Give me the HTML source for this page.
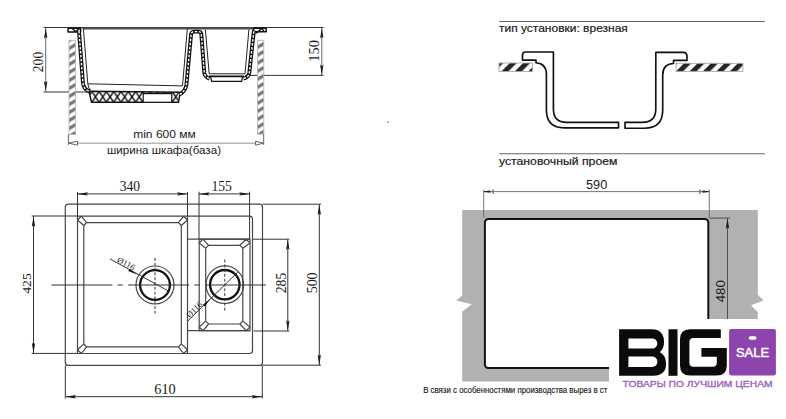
<!DOCTYPE html>
<html><head><meta charset="utf-8">
<style>
html,body{margin:0;padding:0;background:#fff;}
body{width:786px;height:419px;overflow:hidden;position:relative;}
svg{position:absolute;left:0;top:0;}
.sans{font-family:"Liberation Sans",sans-serif;}
.serif{font-family:"Liberation Serif",serif;}
</style></head><body>
<svg width="786" height="419" viewBox="0 0 786 419">
<defs>
  <pattern id="wallH" patternUnits="userSpaceOnUse" width="6.86" height="6.86" patternTransform="rotate(59)">
    <rect width="6.86" height="6.86" fill="#fff"/>
    <rect x="0.1" width="3.2" height="6.86" fill="#747474"/>
  </pattern>
  <pattern id="xH" patternUnits="userSpaceOnUse" x="91.8" y="91.6" width="7.3" height="10.6">
    <rect width="7.3" height="10.6" fill="#fff"/>
    <path d="M0 0 L7.3 10.6 M7.3 0 L0 10.6" stroke="#111" stroke-width="1.5"/>
  </pattern>
  <pattern id="ctH" patternUnits="userSpaceOnUse" width="9.5" height="9.5" patternTransform="translate(8.5,0) rotate(45)">
    <rect width="9.5" height="9.5" fill="#fff"/>
    <rect width="5" height="9.5" fill="#262626"/>
  </pattern>
  <marker id="arF" markerWidth="12" markerHeight="6" refX="11" refY="3" orient="auto-start-reverse" markerUnits="userSpaceOnUse">
    <path d="M0.5 1.3 L11 3 L0.5 4.7 L2.2 3 Z" fill="#1a1a1a"/>
  </marker>
  <marker id="arT" markerWidth="12" markerHeight="6" refX="10" refY="3" orient="auto-start-reverse" markerUnits="userSpaceOnUse">
    <rect x="0" y="0.8" width="1.5" height="4.4" fill="#777"/>
    <path d="M3.5 1.9 L10 2.6 L10 3.4 L3.5 4.1 Z" fill="#222"/>
  </marker>
</defs>

<!-- ============ TOP-LEFT SIDE VIEW ============ -->
<g id="side">
  <!-- top line -->
  <line x1="43.5" y1="27.5" x2="323.5" y2="27.5" stroke="#333" stroke-width="1"/>
  <rect x="82.5" y="27.3" width="170.5" height="2.2" fill="#505050"/>
  <!-- dim 200 -->
  <line x1="45.7" y1="28" x2="45.7" y2="91.5" stroke="#555" stroke-width="0.9" marker-start="url(#arF)" marker-end="url(#arF)"/>
  <line x1="43.5" y1="92" x2="89" y2="92" stroke="#333" stroke-width="1"/>
  <text class="serif" font-size="14.8" fill="#1a1a1a" transform="translate(43.4,62) rotate(-90)" text-anchor="middle" textLength="20.4" lengthAdjust="spacingAndGlyphs">200</text>
  <!-- dim 150 -->
  <line x1="321.8" y1="28" x2="321.8" y2="75" stroke="#555" stroke-width="0.9" marker-start="url(#arF)" marker-end="url(#arF)"/>
  <line x1="245" y1="75.4" x2="323.5" y2="75.4" stroke="#333" stroke-width="1"/>
  <text class="serif" font-size="14.5" fill="#1a1a1a" transform="translate(319.4,50.9) rotate(-90)" text-anchor="middle" textLength="21.6" lengthAdjust="spacingAndGlyphs">150</text>

  <!-- cabinet walls -->
  <rect x="69" y="40.3" width="6.6" height="94.3" fill="url(#wallH)" stroke="#b5b5b5" stroke-width="0.9"/>
  <rect x="257.6" y="40.3" width="6.2" height="93.8" fill="url(#wallH)" stroke="#b5b5b5" stroke-width="0.9"/>
  <!-- 600 dim -->
  <line x1="68.4" y1="134.6" x2="68.4" y2="145" stroke="#555" stroke-width="0.9"/>
  <line x1="263.7" y1="134" x2="263.7" y2="145" stroke="#555" stroke-width="0.9"/>
  <line x1="68.4" y1="143.2" x2="263.7" y2="143.2" stroke="#8a8a8a" stroke-width="0.9"/>
  <path d="M68.8 143.2 L77.5 141.2 L77.5 145.2 Z" fill="#fff" stroke="#555" stroke-width="0.9"/>
  <path d="M263.3 143.2 L255.6 141.2 L255.6 145.2 Z" fill="#fff" stroke="#555" stroke-width="0.9"/>
  <text class="sans" font-size="11.8" fill="#1a1a1a" x="133.2" y="138.4" textLength="62.6" lengthAdjust="spacingAndGlyphs">min 600 мм</text>
  <text class="sans" font-size="11.5" fill="#1a1a1a" x="107" y="153.6" textLength="114" lengthAdjust="spacingAndGlyphs">ширина шкафа(база)</text>

  <!-- inner faces (thin) -->
  <path d="M83.4 28.5 L87.8 83.8 Q88.5 89 91 90.3" fill="none" stroke="#222" stroke-width="1"/>
  <path d="M87.8 83.8 L182.3 85.9" fill="none" stroke="#222" stroke-width="1"/>
  <path d="M187.3 29 L182.5 86" fill="none" stroke="#222" stroke-width="1"/>
  <path d="M205.4 29.5 L209.2 73.8 L245 73.8 L248.9 29.5" fill="none" stroke="#222" stroke-width="1"/>

  <!-- base (cross-hatch) -->
  <path d="M88.9 91.2 L180.2 92.3 L178.5 102.3 L91.5 102.2 Z" fill="url(#xH)" stroke="#111" stroke-width="1.4"/>
  <rect x="143.2" y="93.6" width="28.6" height="8.7" fill="#fff" stroke="#111" stroke-width="1.2"/>
  <!-- small bowl base -->
  <path d="M210.5 76.6 L242.6 76.6 L241.6 81.3 L211.7 81.3 Z" fill="#fff" stroke="#111" stroke-width="1.2"/>
  <line x1="209" y1="76.3" x2="244" y2="76.3" stroke="#111" stroke-width="1.5"/>

  <!-- rims -->
  <g fill="#fff" stroke="#111" stroke-width="1.5" stroke-linejoin="round">
    <path d="M68.1 28.2 L80.6 28.2 L80.6 32 L68.1 32 Z"/>
    <path d="M253.5 28.2 L266.2 28.2 L266.2 31.7 L253.5 31.7 Z"/>
  </g>
  <g fill="none" stroke="#111" stroke-width="1.4">
    <path d="M72.3 28.5 L75.6 31.8 M75.6 31.8 L79.6 28.4 M78 32.2 L80.8 34.5"/>
    <path d="M255.5 33.5 L258.5 31.5 L261.5 28.4 L264 31.5"/>
  </g>

  <!-- thick walls w/ dashes -->
  <g fill="none" stroke-linejoin="round">
    <path d="M79 31 L79.2 34 L83 83.5 Q84 89.5 89.5 91.3" stroke="#111" stroke-width="3.9"/>
    <path d="M79 31 L79.2 34 L83 83.5 Q84 89.5 89.5 91.3" stroke="#fff" stroke-width="1.4" stroke-dasharray="2.5 1.5"/>
    <path d="M179.5 94.5 Q185.2 91.5 186.4 85 L191.1 34 Q191.6 31.6 194.5 31.6 L198.5 31.6 Q201 31.6 201.3 34 L204.3 73 Q205 77 209.5 78.6" stroke="#111" stroke-width="3.9"/>
    <path d="M179.5 94.5 Q185.2 91.5 186.4 85 L191.1 34 Q191.6 31.6 194.5 31.6 L198.5 31.6 Q201 31.6 201.3 34 L204.3 73 Q205 77 209.5 78.6" stroke="#fff" stroke-width="1.4" stroke-dasharray="2.5 1.5"/>
    <path d="M243.5 78.6 Q248.5 77.5 249.3 73 L253.6 33 L254 30.5" stroke="#111" stroke-width="3.9"/>
    <path d="M243.5 78.6 Q248.5 77.5 249.3 73 L253.6 33 L254 30.5" stroke="#fff" stroke-width="1.4" stroke-dasharray="2.5 1.5"/>
  </g>
</g>
<circle cx="387.9" cy="121.9" r="1" fill="#999"/>

<!-- ============ BOTTOM-LEFT TOP VIEW ============ -->
<g id="top" fill="none" stroke="#474747" stroke-width="1.2">
  <!-- outer slab -->
  <rect x="65.3" y="204.2" width="197.2" height="161.2" rx="3"/>
  <!-- bowl block -->
  <path d="M77.5 216.2 L249.5 216.2 Q252.5 216.2 252.5 219.2 L252.5 350.5 Q252.5 353.5 249.5 353.5 L77.5 353.5 Z"/>
  <line x1="187.5" y1="216.2" x2="187.5" y2="353.5"/>
  <!-- big bowl inner w/ chamfers -->
  <path d="M86.6 222.6 L178.4 222.6 L181.3 225.5 L181.3 343.9 L178.4 346.8 L86.6 346.8 L83.8 343.9 L83.8 225.5 Z"/>
  <path d="M77.5 220 L83.8 225.5 M81.4 216.2 L86.6 222.6 M187.5 220 L181.3 225.5 M183.6 216.2 L178.4 222.6 M77.5 349.7 L83.8 343.9 M81.4 353.5 L86.6 346.8 M187.5 349.7 L181.3 343.9 M183.6 353.5 L178.4 346.8 M77.5 220 L81.4 216.2 M187.5 220 L183.6 216.2 M77.5 349.7 L81.4 353.5 M187.5 349.7 L183.6 353.5"/>
  <!-- small bowl -->
  <line x1="187.5" y1="239.2" x2="250" y2="239.2"/>
  <line x1="187.5" y1="330.7" x2="250" y2="330.7"/>
  <rect x="199.2" y="239.2" width="50.8" height="91.5"/>
  <path d="M208.6 245.3 L239.9 245.3 L242.8 248.2 L242.8 321.1 L239.9 324 L208.6 324 L205.7 321.1 L205.7 248.2 Z"/>
  <path d="M199.2 243 L205.7 248.2 M203 239.2 L208.6 245.3 M250 243 L242.8 248.2 M246.2 239.2 L239.9 245.3 M199.2 327 L205.7 321.1 M203 330.7 L208.6 324 M250 327 L242.8 321.1 M246.2 330.7 L239.9 324 M199.2 243 L203 239.2 M250 243 L246.2 239.2 M199.2 327 L203 330.7 M250 327 L246.2 330.7"/>
  <!-- drains -->
  <circle cx="155" cy="285" r="19"/>
  <circle cx="155" cy="285" r="14.9" stroke="#111" stroke-width="2.3"/>
  <circle cx="224.8" cy="284.7" r="18.8"/>
  <circle cx="224.8" cy="284.7" r="14.7" stroke="#111" stroke-width="2.3"/>
</g>
<g fill="none" stroke="#333" stroke-width="1">
  <!-- centerlines -->
  <line x1="51.4" y1="285" x2="267.2" y2="285" stroke-dasharray="61 5 5.4 5.4"/>
  <line x1="155" y1="258" x2="155" y2="313.5" stroke-dasharray="3 1.8"/>
  <line x1="224.8" y1="259.5" x2="224.8" y2="311" stroke-dasharray="3 1.8"/>
  <!-- leaders -->
  <line x1="110" y1="258.9" x2="169.5" y2="291.6"/>
  <line x1="187.5" y1="321.3" x2="237.8" y2="272.1"/>
  <!-- dims -->
  <line x1="77.5" y1="192" x2="77.5" y2="216"/>
  <line x1="187.5" y1="192" x2="187.5" y2="216"/>
  <line x1="77.5" y1="193.9" x2="187.5" y2="193.9" marker-start="url(#arF)" marker-end="url(#arF)"/>
  <line x1="199" y1="191.7" x2="199" y2="239"/>
  <line x1="249.6" y1="191.7" x2="249.6" y2="239"/>
  <line x1="199" y1="193.9" x2="249.6" y2="193.9" marker-start="url(#arF)" marker-end="url(#arF)"/>
  <line x1="31.7" y1="216" x2="77.5" y2="216"/>
  <line x1="31.7" y1="353.4" x2="77.5" y2="353.4"/>
  <line x1="33.5" y1="216.2" x2="33.5" y2="353.2" marker-start="url(#arF)" marker-end="url(#arF)"/>
  <line x1="253" y1="239.2" x2="289.4" y2="239.2"/>
  <line x1="253.6" y1="331" x2="289.4" y2="331"/>
  <line x1="287.8" y1="239.4" x2="287.8" y2="330.8" marker-start="url(#arF)" marker-end="url(#arF)"/>
  <line x1="262.5" y1="204.2" x2="321" y2="204.2"/>
  <line x1="262.5" y1="365.2" x2="321" y2="365.2"/>
  <line x1="319.3" y1="204.4" x2="319.3" y2="365" marker-start="url(#arF)" marker-end="url(#arF)"/>
  <line x1="65.3" y1="365.5" x2="65.3" y2="398.5"/>
  <line x1="262.3" y1="365.5" x2="262.3" y2="398.5"/>
  <line x1="65.5" y1="396.7" x2="262.1" y2="396.7" marker-start="url(#arF)" marker-end="url(#arF)"/>
</g>
<path d="M137.5 274.7 L128.3 271.05 L129.5 268.95 Z" fill="#111"/>
<path d="M210.5 298.7 L204.7 306.4 L202.9 304.8 Z" fill="#111"/>
<g class="serif" font-size="14.3" fill="#1a1a1a" text-anchor="middle" lengthAdjust="spacingAndGlyphs">
  <text x="129.9" y="191" textLength="20.4" lengthAdjust="spacingAndGlyphs">340</text>
  <text x="221.6" y="190.9" textLength="20.4" lengthAdjust="spacingAndGlyphs">155</text>
  <text x="165" y="393.7" textLength="21.5" lengthAdjust="spacingAndGlyphs">610</text>
  <text transform="translate(31.4,283.5) rotate(-90)" font-size="13" textLength="20.5" lengthAdjust="spacingAndGlyphs">425</text>
  <text transform="translate(285.6,283) rotate(-90)" font-size="14.5" textLength="20.5" lengthAdjust="spacingAndGlyphs">285</text>
  <text transform="translate(316.6,282.9) rotate(-90)" font-size="14.3" textLength="20.8" lengthAdjust="spacingAndGlyphs">500</text>
</g>
<g class="serif" font-size="8.3" fill="#1a1a1a">
  <text transform="translate(116.4,261.4) rotate(28.5)" textLength="19" lengthAdjust="spacingAndGlyphs">Ø116</text>
  <text transform="translate(189.4,318.3) rotate(-44.4)" textLength="19" lengthAdjust="spacingAndGlyphs">Ø116</text>
</g>

<!-- ============ TOP-RIGHT PROFILE ============ -->
<g>
  <line x1="499.2" y1="21.5" x2="764.8" y2="21.5" stroke="#666" stroke-width="1.1"/>
  <text class="sans" font-size="11.3" fill="#1a1a1a" stroke="#1a1a1a" stroke-width="0.2" x="499" y="32.1" textLength="128.8" lengthAdjust="spacingAndGlyphs">тип установки: врезная</text>
  <line x1="499.2" y1="153.7" x2="764.8" y2="153.7" stroke="#666" stroke-width="1.1"/>
  <text class="sans" font-size="11.5" fill="#1a1a1a" stroke="#1a1a1a" stroke-width="0.2" x="499" y="165.4" textLength="118.4" lengthAdjust="spacingAndGlyphs">установочный проем</text>

  <rect x="499" y="63" width="33.4" height="8.6" fill="url(#ctH)" stroke="#aaa" stroke-width="0.9"/>
  <rect x="676.1" y="63.3" width="66.8" height="8.1" fill="url(#ctH)" stroke="#aaa" stroke-width="0.9"/>
  <g fill="none" stroke="#111" stroke-width="1.65" stroke-linejoin="round">
    <path d="M618.5 122.3 L566.5 122.3 Q553.4 122.3 553.4 109 L553.4 52 L525.5 52 Q522.5 52 522.5 55 L522.5 60.1 L536 60.1 L536 62.7 Q546.4 63.5 546.4 74 L546.4 110 Q546.4 127.8 564.3 127.8 L618.5 127.8 Z"/>
    <path d="M625 122.3 L642.3 122.3 Q655.8 122.3 655.8 109 L655.8 52.3 L683 52.3 Q687 52.3 687 56.3 L687 60.4 L673.5 60.4 L673.5 63.5 Q662.7 64 662.7 75 L662.7 110 Q662.7 128.2 644.5 128.2 L625 128.2 Z"/>
  </g>
</g>

<!-- ============ BOTTOM-RIGHT CUTOUT ============ -->
<g>
  <path d="M462.2 210 L757.8 210 L757.8 294.8 L763.5 300.6 L751 305.3 L757.8 312 L757.8 381.6 L462.2 381.6 L462.2 311.4 L471.7 304.2 L456.2 300.4 L462.2 295.4 Z" fill="#b1b1b1"/>
  <rect x="484.9" y="219" width="223.4" height="149" rx="3.5" fill="#fff" stroke="#111" stroke-width="2"/>
  <g stroke="#666" stroke-width="0.9" fill="none">
    <line x1="483.7" y1="189.5" x2="483.7" y2="218"/>
    <line x1="709.3" y1="189.5" x2="709.3" y2="218"/>
    <line x1="484" y1="191.6" x2="709" y2="191.6" marker-start="url(#arT)" marker-end="url(#arT)"/>
  </g>
  <g stroke="#444" stroke-width="0.9" fill="none">
    <line x1="709.5" y1="218.1" x2="730.2" y2="218.1"/>
    <line x1="727.5" y1="218.3" x2="727.5" y2="367" marker-start="url(#arF)"/>
  </g>
  <text class="sans" font-size="13.4" fill="#1a1a1a" x="596.6" y="188.7" text-anchor="middle" textLength="21.2" lengthAdjust="spacingAndGlyphs">590</text>
  <text class="sans" font-size="13.3" fill="#1a1a1a" text-anchor="middle" transform="translate(725.4,291.2) rotate(-90)" textLength="22.2" lengthAdjust="spacingAndGlyphs">480</text>
  <text class="sans" font-size="8.4" fill="#1a1a1a" stroke="#1a1a1a" stroke-width="0.15" transform="translate(423.2,393.3) scale(0.935,1)">В связи с особенностями производства вырез в ст</text>
</g>

<!-- ============ LOGO ============ -->
<g>
  <rect x="609" y="319" width="177" height="100" fill="#fff"/>
  <!-- B -->
  <path fill="#0b0b0b" fill-rule="evenodd" d="M619.1 329.3 L652 329.3 C659.5 329.3 664 334 664 341 L664 342.5 C664 346.5 662.5 350 659.8 352.2 C663.8 354.3 666 358 666 363.5 L666 365 C666 371.5 661 375.8 654 375.8 L619.1 375.8 Z M628.4 338.4 L652 338.4 C655.2 338.4 657.3 340.6 657.3 343.5 C657.3 346.4 655.2 348.5 652 348.5 L628.4 348.5 Z M628.4 356.6 L652 356.6 C655.3 356.6 657.4 359 657.4 361.8 C657.4 364.8 655.3 367 652 367 L628.4 367 Z"/>
  <!-- I -->
  <rect x="668.5" y="329.3" width="9" height="46.5" fill="#0b0b0b"/>
  <!-- G -->
  <path fill="#0b0b0b" d="M690 329.3 L720.8 329.3 L720.8 338 L693.4 338 Q689.4 338 689.4 342 L689.4 362.8 Q689.4 366.8 693.4 366.8 L712.8 366.8 Q716.8 366.8 716.8 362.8 L716.8 356.7 L701.4 356.7 L701.4 348 L726.8 348 L726.8 365.5 Q726.8 375.5 716.8 375.5 L690 375.5 Q680 375.5 680 365.5 L680 339.3 Q680 329.3 690 329.3 Z"/>
  <!-- purple tag -->
  <rect x="729.1" y="329.1" width="46.8" height="46.3" rx="1.8" fill="#8e44ad"/>
  <rect x="748.7" y="336.3" width="7.8" height="3.5" rx="1.75" fill="#fff"/>
  <text class="sans" font-size="12.9" fill="#fff" stroke="#fff" stroke-width="0.45" x="752.5" y="357" text-anchor="middle">SALE</text>
  <text class="sans" font-size="9.8" fill="#a066bf" stroke="#a066bf" stroke-width="0.4" x="622.6" y="386.7" textLength="150" lengthAdjust="spacingAndGlyphs">ТОВАРЫ ПО ЛУЧШИМ ЦЕНАМ</text>
</g>
</svg>
</body></html>
